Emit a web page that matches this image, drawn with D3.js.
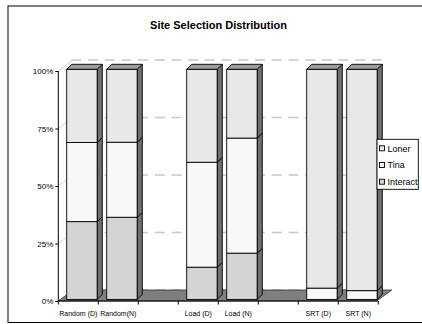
<!DOCTYPE html>
<html>
<head>
<meta charset="utf-8">
<script src="https://cdn.jsdelivr.net/npm/d3@7"></script>
<style>
  html, body { margin: 0; padding: 0; background: #fff; }
  svg { display: block; font-family: Arial, "Liberation Sans", sans-serif; }
  text { fill: #000; }
</style>
</head>
<body>
<svg id="chart" width="422" height="324"></svg>
<script>
// Categories along the floor (empty slots separate the groups)
const categories = ["Random (D)", "Random(N)", "", "Load (D)", "Load (N)", "", "SRT (D)", "SRT (N)"];
// Percent share of each site type per category
const interact = [33.8, 35.7, null, 14.0, 20.1, null, 0, 0];
const tina     = [34.4, 32.6, null, 45.6, 50.0, null, 4.9, 3.8];
const loner    = [31.8, 31.7, null, 40.4, 29.9, null, 95.1, 96.2];
const seriesNames = ["Interact", "Tina", "Loner"];
const seriesColors = ["#d4d4d4", "#f8f8f8", "#e8e8e8"];
const yTicks = [0, 25, 50, 75, 100];
const title = "Site Selection Distribution";

const svg = d3.select("#chart");

// Outer chart frame
svg.append("rect")
  .attr("x", 8).attr("y", 6).attr("width", 430).attr("height", 316.5)
  .attr("fill", "#fff").attr("stroke", "#000").attr("stroke-width", 1);

svg.append("text")
  .attr("x", 218.5).attr("y", 29.3)
  .attr("text-anchor", "middle")
  .attr("font-size", 11).attr("font-weight", "bold")
  .text(title);

// Geometry of the 3D plot box
const x0 = 58.3, x1 = 378.3;
const depth = { dx: 15, dy: -11 };     // floor / wall depth
const barDepth = { dx: 5, dy: -5 };    // column depth

const x = d3.scaleBand().domain(d3.range(categories.length)).range([x0, x1]).padding(0);
const yAxisScale = d3.scaleLinear().domain([0, 100]).range([301, 71]);
const yBar = d3.scaleLinear().domain([0, 100]).range([299.4, 69.3]);

// Back wall gridlines (dashed)
svg.append("g").selectAll("line").data(yTicks).join("line")
  .attr("x1", x0 + depth.dx - 2).attr("x2", x1 + depth.dx - 5)
  .attr("y1", d => yAxisScale(d) + depth.dy).attr("y2", d => yAxisScale(d) + depth.dy)
  .attr("stroke", "#c8c8c8").attr("stroke-width", 1.3)
  .attr("stroke-dasharray", "10,6.7");

// Side wall gridlines (diagonals)
svg.append("g").selectAll("line").data(yTicks).join("line")
  .attr("x1", x0).attr("x2", x0 + depth.dx)
  .attr("y1", d => yAxisScale(d)).attr("y2", d => yAxisScale(d) + depth.dy)
  .attr("stroke", "#c8c8c8").attr("stroke-width", 0.8);

// Floor
const yFloor = yAxisScale(0);
svg.append("path")
  .attr("d", `M${x0},${yFloor} L${x1 - 1.5},${yFloor} L${x1 - 1.5 + depth.dx},${yFloor + depth.dy} L${x0 + depth.dx},${yFloor + depth.dy} Z`)
  .attr("fill", "#7f7f7f").attr("stroke", "#333").attr("stroke-width", 0.8);

// Y axis
const yAxis = d3.axisLeft(yAxisScale)
  .tickValues(yTicks)
  .tickFormat(d => d + "%")
  .tickSize(3).tickPadding(2);
const gy = svg.append("g").attr("transform", `translate(${x0},0)`).call(yAxis);
gy.select(".domain").attr("stroke", "#000").attr("d", `M0,${yAxisScale(0)}V${yAxisScale(100)}`);
gy.selectAll(".tick line").attr("stroke", "#000");
gy.selectAll(".tick text").attr("font-size", 8).attr("fill", "#000")
  .attr("font-family", "Arial, 'Liberation Sans', sans-serif");

// X axis line with ticks at the category boundaries
svg.append("line")
  .attr("x1", x0).attr("x2", x1).attr("y1", yFloor).attr("y2", yFloor)
  .attr("stroke", "#000").attr("stroke-width", 1);
const boundaries = d3.range(categories.length + 1).map(i => x0 + i * x.bandwidth());
svg.append("g").selectAll("line").data(boundaries).join("line")
  .attr("x1", d => d).attr("x2", d => d)
  .attr("y1", yFloor).attr("y2", yFloor + 3.5)
  .attr("stroke", "#000");
svg.append("g").selectAll("text").data(categories).join("text")
  .attr("x", (d, i) => x(i) + x.bandwidth() / 2)
  .attr("y", 315.8)
  .attr("text-anchor", "middle")
  .attr("font-size", 7)
  .attr("fill", "#000")
  .text(d => d);

// Stacked 3D columns
const rows = categories.map((c, i) => ({ i, Interact: interact[i], Tina: tina[i], Loner: loner[i] }))
  .filter(r => r.Interact !== null);
const stack = d3.stack().keys(seriesNames)(rows);

const bw = x.bandwidth();
const barLeft = i => x(i) + bw * 0.21;
const barW = bw * 0.765;

const bars = svg.append("g");
rows.forEach((row, ri) => {
  const g = bars.append("g");
  const xl = barLeft(row.i), xr = xl + barW;
  stack.forEach((layer, si) => {
    const [a, b] = layer[ri];
    if (b - a <= 0) return;
    const yb = yBar(a), yt = yBar(b);
    // front face
    g.append("rect")
      .attr("x", xl).attr("y", yt).attr("width", barW).attr("height", yb - yt)
      .attr("fill", seriesColors[si]).attr("stroke", "#000").attr("stroke-width", 0.9);
    // side face
    g.append("path")
      .attr("d", `M${xr},${yb} L${xr + barDepth.dx},${yb + barDepth.dy} L${xr + barDepth.dx},${yt + barDepth.dy} L${xr},${yt} Z`)
      .attr("fill", "#6f6f6f").attr("stroke", "#000").attr("stroke-width", 0.9);
  });
  // top face
  const yTop = yBar(100);
  g.append("path")
    .attr("d", `M${xl},${yTop} L${xl + barDepth.dx},${yTop + barDepth.dy} L${xr + barDepth.dx},${yTop + barDepth.dy} L${xr},${yTop} Z`)
    .attr("fill", "#9c9c9c").attr("stroke", "#000").attr("stroke-width", 0.9);
});

// Legend
const legend = svg.append("g");
legend.append("rect")
  .attr("x", 377).attr("y", 139.3).attr("width", 41.3).attr("height", 50)
  .attr("fill", "#fff").attr("stroke", "#000").attr("stroke-width", 0.9);
const legendItems = seriesNames.map((n, i) => ({ n, c: seriesColors[i] })).reverse();
const li = legend.selectAll("g.item").data(legendItems).join("g")
  .attr("class", "item")
  .attr("transform", (d, i) => `translate(0,${148.3 + i * 16.7})`);
li.append("rect")
  .attr("x", 379.5).attr("y", -2.5).attr("width", 5).attr("height", 5)
  .attr("fill", d => d.c).attr("stroke", "#000").attr("stroke-width", 0.9);
li.append("text")
  .attr("x", 387.5).attr("y", 3.2)
  .attr("font-size", 9)
  .attr("fill", "#000")
  .text(d => d.n);
</script>
</body>
</html>
